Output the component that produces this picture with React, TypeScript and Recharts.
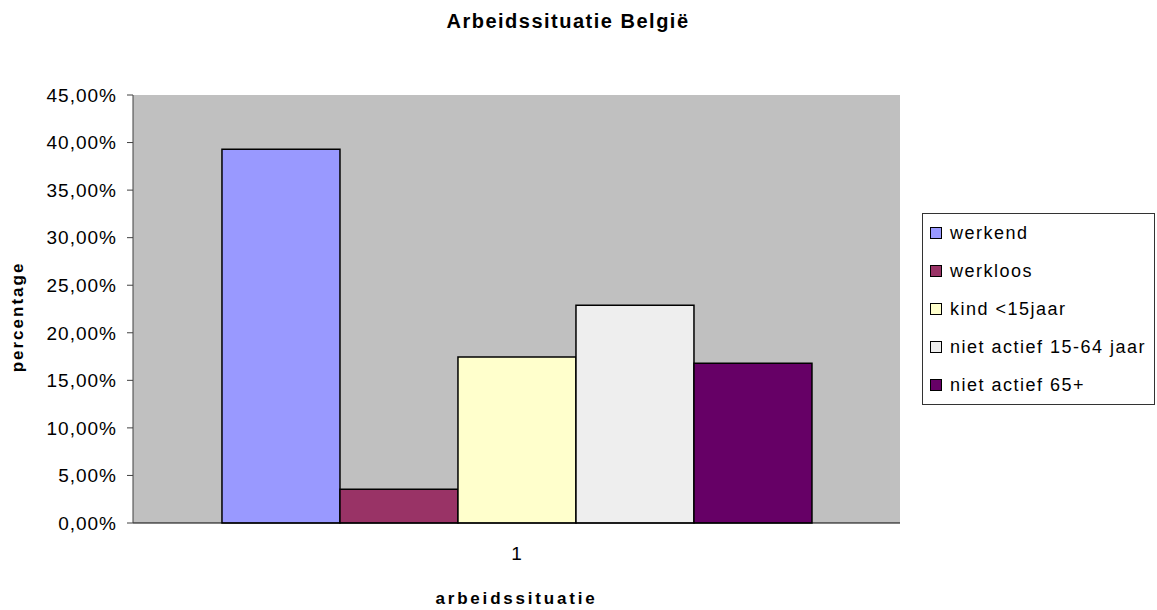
import React from 'react';
import { BarChart, Bar, XAxis, YAxis, CartesianGrid, Legend, Label } from 'recharts';

const categories = ['1'];
const seriesNames = ['werkend', 'werkloos', 'kind <15jaar', 'niet actief 15-64 jaar', 'niet actief 65+'];
const seriesValues = [39.3, 3.55, 17.45, 22.9, 16.8];
const seriesColors = ['#9999FF', '#993366', '#FFFFCC', '#EEEEEE', '#660066'];
const yTicks = [0, 5, 10, 15, 20, 25, 30, 35, 40, 45];

const data = categories.map((name) => {
  const row: Record<string, string | number> = { name };
  seriesNames.forEach((_, i) => {
    row['s' + i] = seriesValues[i];
  });
  return row;
});

const FONT = '"Liberation Sans", Arial, sans-serif';

const formatPct = (v: number) => v.toFixed(2).replace('.', ',') + '%';

const LegendBox = ({ payload }: { payload?: Array<{ value: string; color: string }> }) => {
  // keep the series order of the original, not the alphabetic one
  const items = [...(payload || [])].sort(
    (a, b) => seriesNames.indexOf(a.value) - seriesNames.indexOf(b.value)
  );
  return (
    <div
      style={{
        width: 233,
        height: 192,
        boxSizing: 'border-box',
        border: '1px solid #333',
        background: '#fff',
        fontFamily: FONT,
      }}
    >
      {items.map((entry) => (
        <div
          key={entry.value}
          style={{ height: 38, display: 'flex', alignItems: 'center', paddingLeft: 7 }}
        >
          <span
            style={{
              width: 12,
              height: 12,
              boxSizing: 'border-box',
              border: '1.5px solid #000',
              background: entry.color,
              marginRight: 8,
            }}
          />
          <span style={{ fontSize: 18, letterSpacing: '1.5px', color: '#000', lineHeight: '18px' }}>
            {entry.value}
          </span>
        </div>
      ))}
    </div>
  );
};

export default function App() {
  return (
    <div
      style={{
        position: 'absolute',
        left: 0,
        top: 0,
        width: 1157,
        height: 610,
        background: '#fff',
        fontFamily: FONT,
      }}
    >
      <div
        style={{
          position: 'absolute',
          left: 0,
          top: 11,
          width: 1136,
          textAlign: 'center',
          fontSize: 20,
          lineHeight: '20px',
          fontWeight: 'bold',
          letterSpacing: '1.5px',
          color: '#000',
        }}
      >
        Arbeidssituatie België
      </div>
      <BarChart
        width={1157}
        height={610}
        data={data}
        margin={{ top: 95, right: 257, bottom: 0, left: 0 }}
        barCategoryGap="11.6%"
        barGap={0}
      >
        <CartesianGrid horizontal={false} vertical={false} fill="#C0C0C0" />
        <XAxis
          dataKey="name"
          height={87}
          tickSize={0}
          tickMargin={24}
          tick={{ fill: '#000', fontSize: 19 }}
          axisLine={{ stroke: '#000' }}
        >
          <Label
            content={({ viewBox }: any) => (
              <text
                x={viewBox.x + viewBox.width / 2}
                y={604}
                textAnchor="middle"
                fontSize={17}
                fontWeight="bold"
                fill="#000"
                style={{ letterSpacing: '2.8px' }}
              >
                arbeidssituatie
              </text>
            )}
          />
        </XAxis>
        <XAxis
          xAxisId="top"
          dataKey="name"
          orientation="top"
          height={0}
          tick={false}
          tickLine={false}
          axisLine={{ stroke: '#808080' }}
        />
        <YAxis
          width={133}
          domain={[0, 45]}
          ticks={yTicks}
          tickFormatter={formatPct}
          tickSize={6}
          tickMargin={10}
          tick={{ fill: '#000', fontSize: 19, style: { letterSpacing: '1px' } }}
          tickLine={{ stroke: '#404040' }}
          axisLine={{ stroke: '#404040' }}
        >
          <Label
            content={({ viewBox }: any) => {
              const cy = viewBox.y + viewBox.height / 2 + 8;
              return (
                <text
                  x={17}
                  y={cy}
                  transform={`rotate(-90 17 ${cy})`}
                  textAnchor="middle"
                  dominantBaseline="central"
                  fontSize={17}
                  fontWeight="bold"
                  fill="#000"
                  style={{ letterSpacing: '2px' }}
                >
                  percentage
                </text>
              );
            }}
          />
        </YAxis>
        <YAxis
          yAxisId="right"
          orientation="right"
          width={0}
          domain={[0, 45]}
          tick={false}
          tickLine={false}
          axisLine={{ stroke: '#808080' }}
        />
        <Legend
          layout="vertical"
          align="center"
          verticalAlign="middle"
          content={<LegendBox />}
          wrapperStyle={{ position: 'absolute', left: 922, top: 213, width: 233, height: 192 }}
        />
        {seriesNames.map((s, i) => (
          <Bar
            key={s}
            dataKey={'s' + i}
            name={s}
            fill={seriesColors[i]}
            stroke="#000"
            strokeWidth={1.5}
            isAnimationActive={false}
          />
        ))}
      </BarChart>
    </div>
  );
}
